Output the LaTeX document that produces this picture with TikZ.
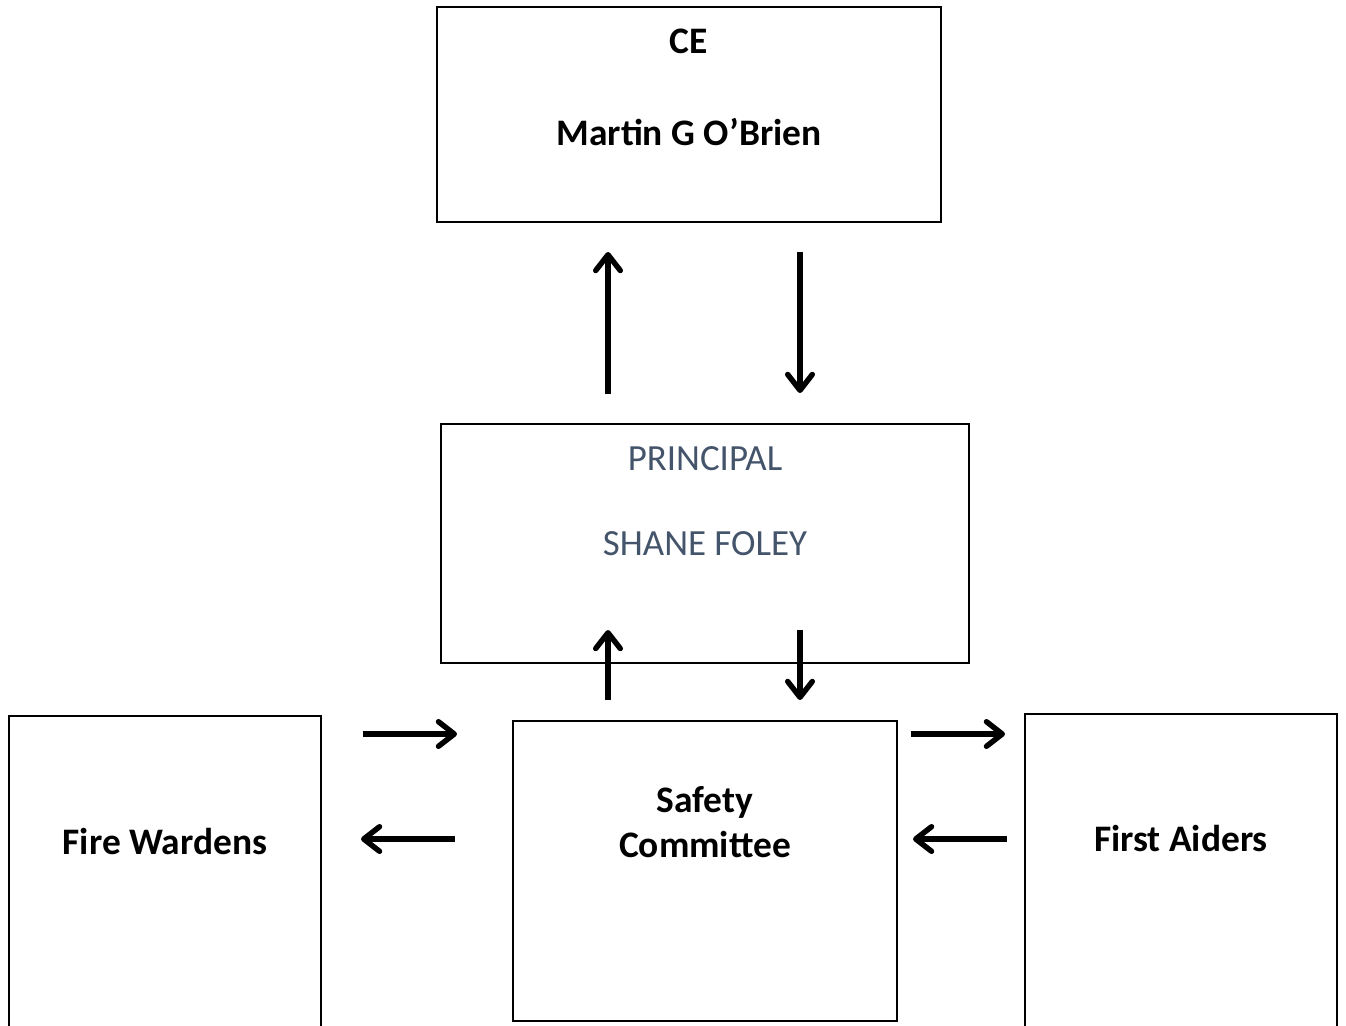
\documentclass[tikz,border=0pt]{standalone}
\usepackage{fontspec}
\setmainfont{Carlito}
\usetikzlibrary{arrows.meta}
\definecolor{slate}{HTML}{44546A}
\tikzset{
    box/.style={draw, line width=1.1pt, inner sep=0pt},
    flow/.style={line width=3.1pt, -{Straight Barb[length=9pt,width=14pt,round]}},
    lbl/.style={font=\fontsize{21.3}{25}\selectfont\bfseries, anchor=base},
    plbl/.style={font=\fontsize{21}{25}\selectfont, text=slate, anchor=base}
}
\begin{document}
\begin{tikzpicture}[x=0.02cm,y=-0.02cm]
            \useasboundingbox (0,0) rectangle (1346,1025);

            % boxes
            \node[box, minimum width=10.08cm, minimum height=4.30cm] (ce) at (689,114.5) {};
            \node[box, minimum width=10.56cm, minimum height=4.78cm] (principal) at (705,543.5) {};
            \node[box, minimum width=6.24cm, minimum height=6.48cm] (wardens) at (165,878) {};
            \node[box, minimum width=7.68cm, minimum height=6.00cm] (committee) at (705,871) {};
            \node[box, minimum width=6.24cm, minimum height=6.52cm] (aiders) at (1181,877) {};

            % texts
            \node[lbl] (cetitle) at (689,53) {CE};
            \node[lbl] (cename) at (689,145) {Martin G O’Brien};
            \node[plbl] (ptitle) at (705,470) {PRINCIPAL};
            \node[plbl] (pname) at (705,555) {SHANE FOLEY};
            \node[lbl] (wtext) at (165,854) {Fire Wardens};
            \node[lbl] (ctext1) at (705,812) {Safety};
            \node[lbl] (ctext2) at (705,857) {Committee};
            \node[lbl] (atext) at (1181,851) {First Aiders};

            % arrow ends
            \coordinate (upA) at (608,394);   \coordinate (upB) at (608,252);
            \coordinate (dnA) at (800,252);   \coordinate (dnB) at (800,393);
            \coordinate (upC) at (608,700);   \coordinate (upD) at (608,630);
            \coordinate (dnC) at (800,630);   \coordinate (dnD) at (800,700);
            \coordinate (wtoA) at (363,734);  \coordinate (wtoB) at (457,734);
            \coordinate (wfrA) at (455,839);  \coordinate (wfrB) at (361,839);
            \coordinate (atoA) at (911,734);  \coordinate (atoB) at (1005,734);
            \coordinate (afrA) at (1007,839); \coordinate (afrB) at (913,839);

            \draw[flow] (upA) -- (upB);
            \draw[flow] (dnA) -- (dnB);
            \draw[flow] (upC) -- (upD);
            \draw[flow] (dnC) -- (dnD);
            \draw[flow] (wtoA) -- (wtoB);
            \draw[flow] (wfrA) -- (wfrB);
            \draw[flow] (atoA) -- (atoB);
            \draw[flow] (afrA) -- (afrB);
\end{tikzpicture}
\end{document}
